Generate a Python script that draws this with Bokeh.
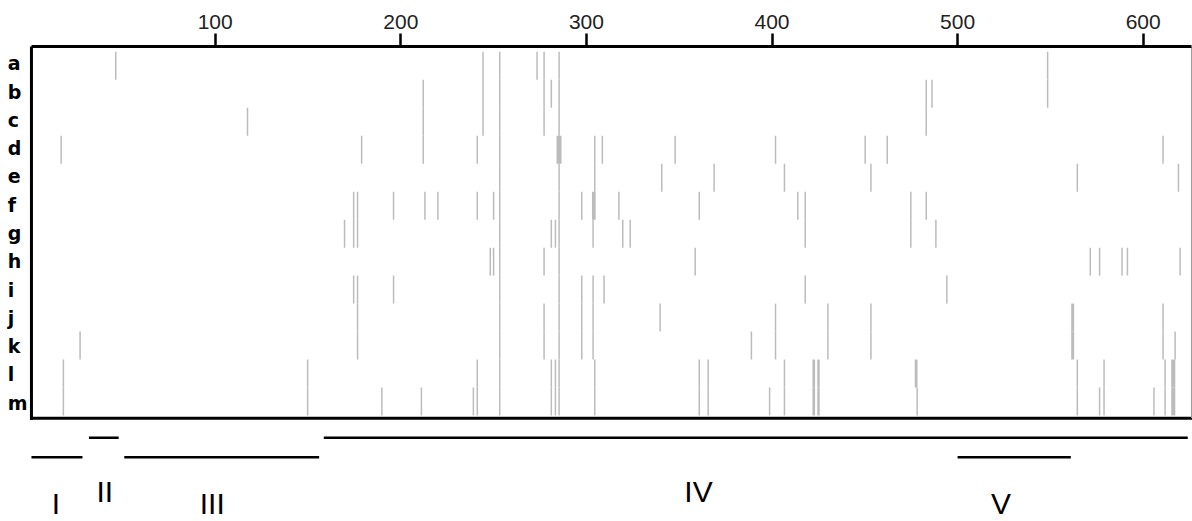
from bokeh.plotting import figure
from bokeh.models import Range1d, FixedTicker
from bokeh.core.properties import value
from bokeh.embed import file_html
from bokeh.resources import INLINE

# ---------------- data ----------------
ROWS = list("abcdefghijklm")
TICKS = [100, 200, 300, 400, 500, 600]
SEQ_START = 1
SEQ_END = 626

# thin marks: sequence positions per row
MARKS = {
    "a": [46.4, 244.3, 253.3, 273.4, 277.2, 285.3, 548.5],
    "b": [212.1, 244.3, 253.3, 277.2, 281.1, 285.3, 483.1, 486.2, 548.5],
    "c": [117.4, 212.1, 244.3, 253.3, 277.2, 285.3, 483.1],
    "d": [17.0, 178.9, 212.1, 241.2, 253.3, 285.3, 304.5, 308.6, 347.8, 401.9,
          450.2, 462.1, 610.7],
    "e": [253.3, 285.3, 304.5, 340.6, 368.8, 406.7, 453.3, 564.5, 619.0],
    "f": [174.6, 176.7, 196.1, 213.0, 220.0, 241.2, 250.0, 253.3, 285.3, 297.5,
          317.5, 360.8, 413.9, 417.9, 474.8, 483.1],
    "g": [169.7, 174.6, 176.7, 253.3, 281.1, 283.3, 285.3, 303.6, 319.6, 323.6,
          417.9, 474.8, 488.3],
    "h": [248.2, 250.0, 253.3, 277.2, 285.3, 358.6, 571.5, 576.5, 588.6, 591.5,
          619.9],
    "i": [174.6, 176.7, 196.1, 253.3, 285.3, 297.5, 303.6, 309.5, 417.9, 494.2],
    "j": [176.7, 253.3, 277.2, 285.3, 297.5, 303.6, 339.7, 401.9, 430.1, 453.3,
          610.7],
    "k": [27.2, 176.7, 253.3, 277.2, 285.3, 297.5, 303.6, 388.9, 401.9, 430.1,
          453.3, 610.7, 617.2],
    "l": [18.2, 149.8, 241.2, 253.3, 281.1, 283.3, 285.3, 304.5, 360.8, 365.6,
          406.7, 564.5, 578.9, 611.8],
    "m": [18.2, 149.8, 189.8, 211.1, 239.1, 241.2, 253.3, 281.1, 283.3, 285.3,
          304.5, 360.8, 365.6, 398.7, 406.7, 478.2, 564.5, 576.5, 578.9, 605.8,
          611.8],
}

# wider features: row, start, end
WIDE_ROW = ["d", "f", "j", "k", "l", "l", "l", "m", "m", "l", "m"]
WIDE_START = [283.9, 303.0, 561.2, 561.2, 476.9, 421.8, 424.4, 421.8, 424.4, 615.1, 615.1]
WIDE_END = [286.6, 305.0, 562.8, 562.8, 478.4, 423.2, 425.7, 423.2, 425.7, 617.3, 617.3]

# domains / regions below the map
REGION_NAMES = ["I", "II", "III", "IV", "V"]
REGION_START = [1.0, 32.0, 51.0, 158.5, 500.0]
REGION_END = [28.5, 48.0, 156.0, 624.0, 561.0]
REGION_TRACK = [2, 1, 2, 1, 2]
REGION_LABEL_X = [14.2, 40.5, 98.4, 360.4, 523.4]

# ---------------- layout ----------------
N = len(ROWS)
row_idx = {r: N - 1 - i for i, r in enumerate(ROWS)}
Y_TOP = N + 0.19
Y_BOTTOM_LINE = -0.095
MARK_COLOR = "#bcbcbc"

W, H = 1192, 521
p = figure(width=W, height=H, output_backend="svg", toolbar_location=None,
           x_range=Range1d(-15.68, 626.56), y_range=Range1d(-3.79, Y_TOP),
           x_axis_location="above", y_axis_location=None,
           min_border=0, min_border_top=46)
p.min_border_left = 0
p.min_border_right = 0
p.min_border_bottom = 0
p.outline_line_color = None
p.grid.visible = False
p.background_fill_color = "white"
p.border_fill_color = "white"

ax = p.xaxis[0]
ax.ticker = FixedTicker(ticks=TICKS)
ax.bounds = (SEQ_START, SEQ_END)
ax.axis_line_width = 3
ax.axis_line_color = "black"
ax.major_tick_in = 0
ax.major_tick_out = 13
ax.major_tick_line_width = 2.5
ax.major_tick_line_color = "black"
ax.minor_tick_line_color = None
ax.major_label_standoff = 5
ax.major_label_text_font = "Liberation Sans"
ax.major_label_text_font_size = "21px"
ax.major_label_text_color = "#222222"

# thin marks
xs, y0s, y1s = [], [], []
for r in ROWS:
    for pos in MARKS[r]:
        xs.append(pos)
        y0s.append(row_idx[r])
        y1s.append(row_idx[r] + 1)
p.segment(x0=xs, y0=y0s, x1=xs, y1=y1s, line_color=MARK_COLOR, line_width=1.5)

# wide marks
p.quad(left=WIDE_START, right=WIDE_END,
       bottom=[row_idx[r] for r in WIDE_ROW], top=[row_idx[r] + 1 for r in WIDE_ROW],
       fill_color=MARK_COLOR, line_color=None)

# frame borders (left, bottom black; right thin grey)
p.segment(x0=[SEQ_START, SEQ_START], y0=[Y_BOTTOM_LINE, Y_BOTTOM_LINE],
          x1=[SEQ_START, SEQ_END], y1=[Y_TOP, Y_BOTTOM_LINE],
          line_color="black", line_width=3, line_cap="square")
p.segment(x0=[SEQ_END], y0=[Y_BOTTOM_LINE], x1=[SEQ_END], y1=[Y_TOP],
          line_color="#9a9a9a", line_width=1)

# row labels
p.text(x=[-11.75] * N, y=[row_idx[r] * 1.0104 + 0.46 for r in ROWS], text=ROWS,
       text_font=value("DejaVu Sans"), text_font_style="bold",
       text_font_size="19px", text_align="left", text_baseline="middle",
       text_color="black")

# regions
track_line_y = {1: -0.80, 2: -1.49}
track_label_y = {1: -2.71, 2: -3.15}
p.segment(x0=REGION_START, x1=REGION_END,
          y0=[track_line_y[t] for t in REGION_TRACK],
          y1=[track_line_y[t] for t in REGION_TRACK],
          line_color="black", line_width=2.5)
p.text(x=REGION_LABEL_X, y=[track_label_y[t] for t in REGION_TRACK], text=REGION_NAMES,
       text_font=value("Liberation Sans"), text_font_size="30px",
       text_align="center", text_baseline="middle", text_color="black")

open("out.html", "w").write(file_html(p, INLINE))
